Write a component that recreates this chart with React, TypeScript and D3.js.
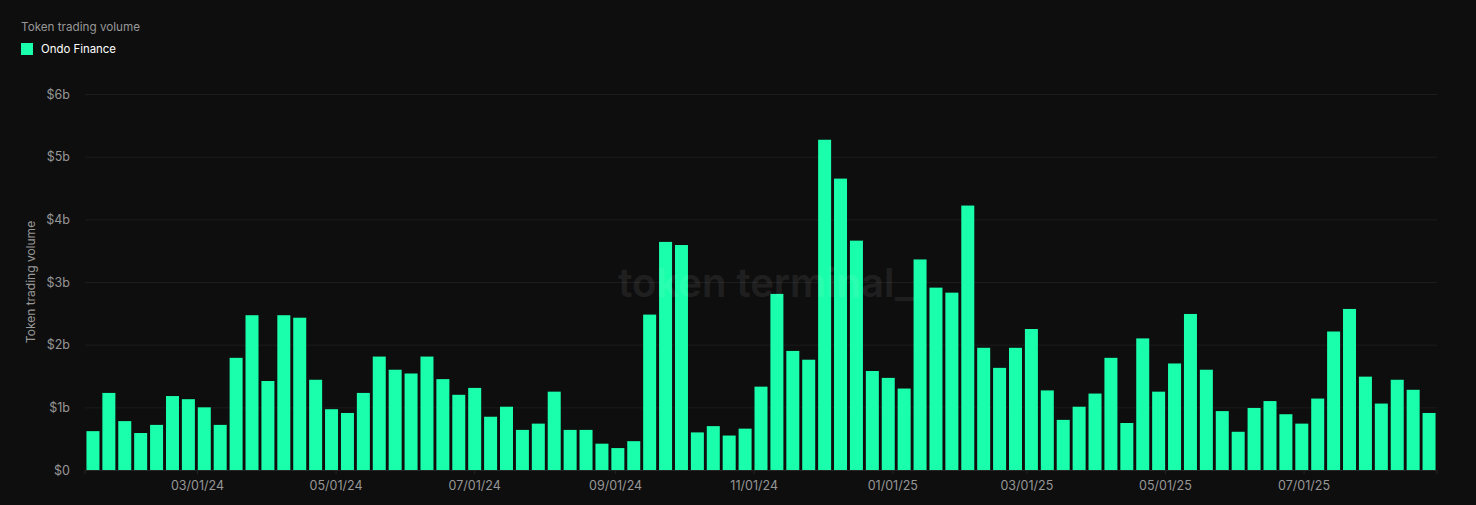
import { useRef, useEffect } from "react";
import * as d3 from "d3";

const width = 1476;
const height = 505;

// weekly values in $b
const volumes = [
  0.62, 1.23, 0.78, 0.59, 0.72, 1.18, 1.13, 1.0, 0.72, 1.79, 2.47, 1.42, 2.47, 2.43, 1.44, 0.97, 0.91,
  1.23, 1.81, 1.6, 1.54, 1.81, 1.45, 1.2, 1.31, 0.85, 1.01, 0.64, 0.74, 1.25, 0.64, 0.64, 0.42, 0.35,
  0.46, 2.48, 3.64, 3.59, 0.6, 0.7, 0.55, 0.66, 1.33, 2.81, 1.9, 1.76, 5.27, 4.65, 3.66, 1.58, 1.47,
  1.3, 3.36, 2.91, 2.83, 4.22, 1.95, 1.63, 1.95, 2.25, 1.27, 0.8, 1.01, 1.22, 1.79, 0.75, 2.1, 1.25,
  1.7, 2.49, 1.6, 0.94, 0.61, 0.99, 1.1, 0.89, 0.74, 1.14, 2.21, 2.57, 1.49, 1.06, 1.44, 1.28, 0.91,
];
const firstWeek = new Date(Date.UTC(2024, 0, 15));
const yTicks = [0, 1, 2, 3, 4, 5, 6];
const xTicks = [
  new Date(Date.UTC(2024, 2, 1)),
  new Date(Date.UTC(2024, 4, 1)),
  new Date(Date.UTC(2024, 6, 1)),
  new Date(Date.UTC(2024, 8, 1)),
  new Date(Date.UTC(2024, 10, 1)),
  new Date(Date.UTC(2025, 0, 1)),
  new Date(Date.UTC(2025, 2, 1)),
  new Date(Date.UTC(2025, 4, 1)),
  new Date(Date.UTC(2025, 6, 1)),
];
const seriesName = "Ondo Finance";
const chartTitle = "Token trading volume";

const font = "Inter, sans-serif";
const green = "#1affab";
const grey = "#979797";

export default function App() {
  const svgRef = useRef<SVGSVGElement>(null);

  useEffect(() => {
    const svg = d3.select(svgRef.current);
    svg.selectAll("*").remove();

    const margin = { top: 94, right: 39, bottom: 35, left: 85 };
    const weeks = volumes.map((_, i) => d3.utcDay.offset(firstWeek, i * 7));

    const xScale = d3
      .scaleUtc()
      .domain([d3.utcHour.offset(weeks[0], -84), d3.utcHour.offset(weeks[weeks.length - 1], 84)])
      .range([margin.left, width - margin.right]);

    const yScale = d3.scaleLinear().domain([0, 6]).range([height - margin.bottom, margin.top]);

    // Grid lines and y labels
    const yAxis = d3
      .axisLeft(yScale)
      .tickValues(yTicks)
      .tickSize(-(width - margin.left - margin.right))
      .tickPadding(15)
      .tickFormat((d) => (d === 0 ? "$0" : `$${d}b`));

    const yGroup = svg.append("g").attr("transform", `translate(${margin.left},0)`).call(yAxis);
    yGroup.select(".domain").remove();
    yGroup.selectAll("line").attr("stroke", "#1c1c1c");
    yGroup
      .selectAll("text")
      .attr("fill", grey)
      .attr("font-size", 12.5)
      .attr("font-family", font);

    // Bars
    const barWidth = 13;
    svg
      .append("g")
      .selectAll("rect")
      .data(volumes)
      .enter()
      .append("rect")
      .attr("x", (_, i) => xScale(weeks[i]) - barWidth / 2)
      .attr("y", (d) => yScale(d))
      .attr("width", barWidth)
      .attr("height", (d) => yScale(0) - yScale(d))
      .attr("fill", green);

    // X axis
    const xAxis = d3
      .axisBottom(xScale)
      .tickValues(xTicks)
      .tickSize(4)
      .tickPadding(7)
      .tickFormat((d) => d3.utcFormat("%m/%d/%y")(d as Date));

    const xGroup = svg
      .append("g")
      .attr("transform", `translate(-0.5,${height - margin.bottom})`)
      .call(xAxis);
    xGroup.select(".domain").attr("stroke", "#262626");
    xGroup.selectAll("line").attr("stroke", "#262626");
    xGroup
      .selectAll("text")
      .attr("fill", grey)
      .attr("font-size", 12.5)
      .attr("font-family", font);

    // Watermark
    svg
      .append("text")
      .attr("x", 766)
      .attr("y", 297)
      .attr("text-anchor", "middle")
      .attr("font-size", 40)
      .attr("font-weight", 600)
      .attr("font-family", font)
      .attr("fill", "#ffffff")
      .attr("opacity", 0.07)
      .text("token terminal_");

    // Y axis title
    svg
      .append("text")
      .attr("transform", "translate(35,282) rotate(-90)")
      .attr("text-anchor", "middle")
      .attr("font-size", 12)
      .attr("font-family", font)
      .attr("fill", grey)
      .text(chartTitle);

    // Title and legend
    svg
      .append("text")
      .attr("x", 21)
      .attr("y", 31)
      .attr("font-size", 11.7)
      .attr("font-family", font)
      .attr("fill", grey)
      .text(chartTitle);

    svg.append("rect").attr("x", 21).attr("y", 43).attr("width", 12).attr("height", 12).attr("fill", green);

    svg
      .append("text")
      .attr("x", 41)
      .attr("y", 53)
      .attr("font-size", 11.4)
      .attr("font-family", font)
      .attr("fill", "#ffffff")
      .text(seriesName);
  }, []);

  return (
    <svg
      ref={svgRef}
      width={width}
      height={height}
      style={{ position: "fixed", left: 0, top: 0, background: "#0e0e0e", display: "block" }}
    ></svg>
  );
}
